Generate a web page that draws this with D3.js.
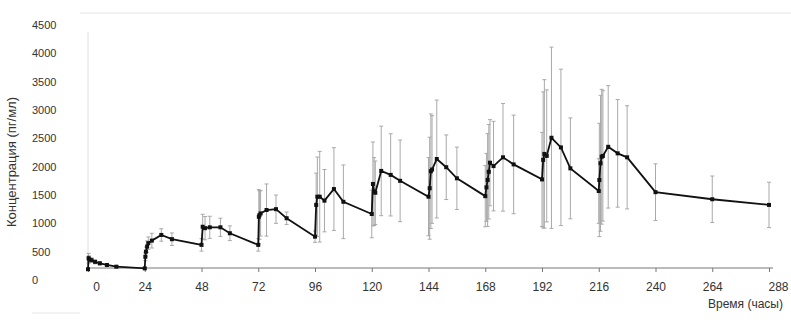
<!DOCTYPE html>
<html lang="ru">
<head>
  <meta charset="UTF-8">
  <title>Концентрация</title>
  <style>
    body{ margin: 0; background: #fff; }
    svg{ font-family: "Liberation Sans", Arial, sans-serif; }
    .x-axis path, .x-axis line{ stroke: #777; }
    .x-axis text{ fill: #333; font-size: 12px; }
    .y-label{ fill: #333; font-size: 11px; }
    .err{ stroke: #a9a9a9; stroke-width: 1; }
    .curve{ fill: none; stroke: #111; stroke-width: 1.8; }
  </style>
</head>
<body>
  <script src="https://cdn.jsdelivr.net/npm/d3@7"></script>
  <script>
    // время отбора проб, часы
    const hours = [
      0, 0.25, 0.5, 1.5, 3, 5, 8, 12, 24,
      24.25, 24.5, 25, 25.5, 27, 31, 35.5, 48,
      48.5, 49.5, 51.5, 56, 60, 72,
      72.25, 72.5, 73, 75.5, 79.5, 84, 96,
      96.5, 97, 98, 100, 104, 108, 120,
      120.5, 121, 121.5, 124, 128, 132, 144,
      144.5, 145, 145.5, 147.5, 151.5, 156, 168,
      168.5, 169, 169.5, 170, 171.5, 175.5, 180, 192,
      192.5, 193, 194, 196, 200, 204, 216,
      216.25, 216.75, 217.25, 217.75, 220, 224, 228, 240, 264, 288
    ];
    // средняя концентрация, пг/мл
    const conc = [
      190, 385, 365, 350, 320, 295, 265, 235, 205,
      410, 500, 590, 650, 695, 795, 720, 620,
      940, 915, 930, 930, 825, 620,
      1115, 1145, 1175, 1235, 1250, 1090, 765,
      1325, 1470, 1470, 1400, 1605, 1380, 1165,
      1695, 1560, 1540, 1925, 1855, 1750, 1470,
      1620, 1920, 1950, 2135, 1990, 1795, 1480,
      1635, 1765, 1910, 2070, 2010, 2165, 2040, 1775,
      2120, 2225, 2190, 2510, 2340, 1970, 1570,
      1765, 2060, 2175, 2190, 2350, 2235, 2165, 1550, 1425, 1325
    ];
    // стандартное отклонение
    const sd = [
      0, 85, 60, 40, 35, 30, 25, 20, 15,
      70, 80, 100, 110, 130, 110, 110, 110,
      220, 205, 195, 160, 130, 110,
      480, 430, 400, 460, 250, 110, 100,
      560, 700, 800, 550, 730, 650, 420,
      740, 600, 560, 790, 725, 720, 690,
      900, 1010, 950, 1040, 570, 550, 540,
      600, 820, 835, 760, 790, 950, 870, 830,
      1200, 1310, 1165, 1600, 1380, 890, 570,
      1000, 1200, 1190, 1150, 1080, 950, 910, 500, 410, 400
    ];
    const xTicks = [0, 24, 48, 72, 96, 120, 144, 168, 192, 216, 240, 264, 288];
    const yTicks = [0, 500, 1000, 1500, 2000, 2500, 3000, 3500, 4000, 4500];

    const width = 791, height = 330;
    const axisY = 268;
    const data = hours.map((h, i) => ({ h, c: conc[i], s: sd[i] }));

    const svg = d3.select('body').append('svg')
      .attr('width', width)
      .attr('height', height);

    const x = d3.scaleLinear().domain([0, 288]).range([88, 769]);
    const y = d3.scaleLinear().domain([0, 4500]).range([280, 25]);

    // рамка скана
    svg.append('line').attr('x1', 80).attr('x2', 791).attr('y1', 13).attr('y2', 13)
      .attr('stroke', '#e6e6e6');
    svg.append('line').attr('x1', 32).attr('x2', 80).attr('y1', 313).attr('y2', 313)
      .attr('stroke', '#e6e6e6');
    svg.append('line').attr('x1', 88).attr('x2', 88).attr('y1', 32).attr('y2', axisY)
      .attr('stroke', '#e0e0e0');

    // ось Y
    svg.append('g').selectAll('text')
      .data(yTicks)
      .join('text')
      .attr('class', 'y-label')
      .attr('x', 32)
      .attr('y', d => y(d))
      .attr('dy', '0.35em')
      .text(d => d);

    // ось X
    const xAxis = d3.axisBottom(x).tickValues(xTicks).tickSize(4).tickPadding(10.5).tickSizeOuter(0);
    const gx = svg.append('g')
      .attr('class', 'x-axis')
      .attr('transform', `translate(0,${axisY})`)
      .call(xAxis);
    gx.select('.domain').attr('d', `M88,0H773`);
    gx.selectAll('.tick text')
      .attr('dx', d => d === 0 ? 8 : (d === 288 ? 9 : 0));

    // планки погрешностей
    const err = svg.append('g');
    err.selectAll('line.v')
      .data(data.filter(d => d.s > 0))
      .join('line')
      .attr('class', 'err v')
      .attr('x1', d => x(d.h)).attr('x2', d => x(d.h))
      .attr('y1', d => y(d.c - d.s)).attr('y2', d => y(d.c + d.s));
    ['top', 'bot'].forEach(k => {
      err.selectAll('line.' + k)
        .data(data.filter(d => d.s > 0))
        .join('line')
        .attr('class', 'err ' + k)
        .attr('x1', d => x(d.h) - 2).attr('x2', d => x(d.h) + 2)
        .attr('y1', d => y(k === 'top' ? d.c + d.s : d.c - d.s))
        .attr('y2', d => y(k === 'top' ? d.c + d.s : d.c - d.s));
    });

    // кривая
    const line = d3.line().x(d => x(d.h)).y(d => y(d.c));
    svg.append('path').datum(data).attr('class', 'curve').attr('d', line);
    svg.append('g').selectAll('rect')
      .data(data)
      .join('rect')
      .attr('x', d => x(d.h) - 2)
      .attr('y', d => y(d.c) - 2)
      .attr('width', 4)
      .attr('height', 4)
      .attr('fill', '#111');

    // подписи осей
    svg.append('text')
      .attr('transform', 'translate(16,162) rotate(-90)')
      .attr('text-anchor', 'middle')
      .attr('font-size', 13)
      .attr('fill', '#333')
      .text('Концентрация (пг/мл)');
    svg.append('text')
      .attr('x', 783)
      .attr('y', 308)
      .attr('text-anchor', 'end')
      .attr('font-size', 12)
      .attr('fill', '#333')
      .text('Время (часы)');
  </script>
</body>
</html>
